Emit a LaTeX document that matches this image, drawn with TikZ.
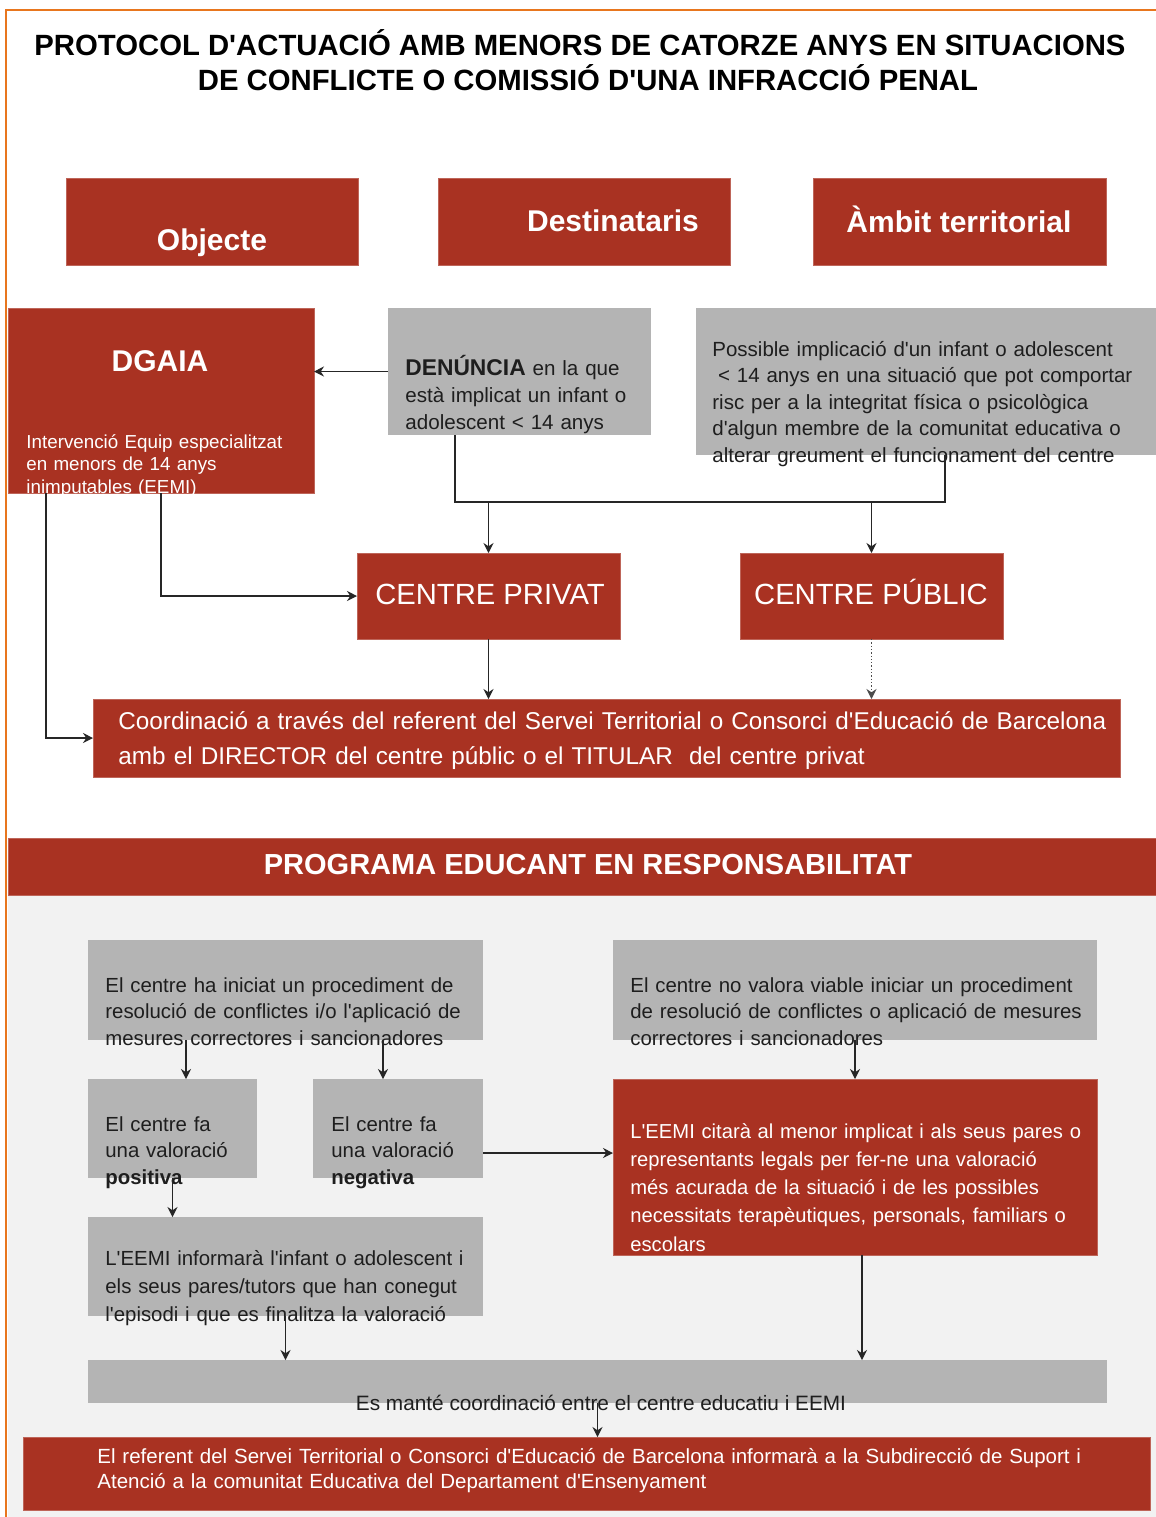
\documentclass[tikz,border=0pt]{standalone}
\usepackage{fontspec}
\setmainfont{Liberation Sans}
\newfontfamily\arialfont{Liberation Sans}
\usetikzlibrary{arrows.meta}
\definecolor{redbox}{RGB}{169,50,34}
\definecolor{greybox}{RGB}{180,180,180}
\definecolor{bglight}{RGB}{242,242,242}
\definecolor{frameorange}{RGB}{232,118,30}
\definecolor{txtdark}{RGB}{30,30,30}
\newcommand\fs[2]{\arialfont\fontsize{#1pt}{#2pt}\selectfont}
\newcommand\mkbox[6]{\node[#6, minimum width={(#4-#2)*0.5pt}, minimum height={(#5-#3)*0.5pt}] (#1) at ({(#2+#4)/2},{(#3+#5)/2}) {};}
\begin{document}
\begin{tikzpicture}[x=0.5pt,y=-0.5pt,
  redb/.style={fill=redbox, draw=redbox!75!white, line width=0.4pt, inner sep=0, outer sep=0},
  greyb/.style={fill=greybox, inner sep=0, outer sep=0},
  gtext/.style={anchor=base west, inner sep=0, text width=300pt, align=left, text=txtdark},
  wtext/.style={gtext, text=white},
  htext/.style={inner sep=0, text=white, font=\bfseries\fs{15}{18}},
  ctext/.style={inner sep=0, anchor=base, text=white, font=\fs{14.6}{17}},
  arr/.style={draw=black!85, line width=0.65pt, -{Stealth[length=5pt,width=5pt]}},
  conn/.style={draw=black!85, line width=0.65pt},
]
\useasboundingbox (0,0) rectangle (1156,1517);
\fill[white] (0,0) rectangle (1156,1517);
% light background of lower section
\fill[bglight] (8,895) rectangle (1156,1517);
% orange frame
\draw[frameorange, line width=1pt] (6,1517) -- (6,10) -- (1156,10);

% title
\node[font=\bfseries\fs{14.65}{17.5}, align=center, text=black, inner sep=0] (title) at (580,60)
  {PROTOCOL D'ACTUACIÓ AMB MENORS DE CATORZE ANYS EN SITUACIONS\\\hspace*{8pt}DE CONFLICTE O COMISSIÓ D'UNA INFRACCIÓ PENAL};

% top header boxes
\mkbox{obj}{66}{178}{358}{265}{redb}
\mkbox{dest}{438}{178}{730}{265}{redb}
\mkbox{ambit}{813}{178}{1106}{265}{redb}
\node[htext] (objtxt) at (212,243) {Objecte};
\node[htext] (desttxt) at (613,221) {Destinataris};
\node[htext] (ambittxt) at (959,219) {Àmbit territorial};

% DGAIA
\mkbox{dgaia}{8}{308}{314}{493}{redb}
\node[htext] (dgaiatitle) at (160,361) {DGAIA};
\node[wtext, font=\fs{9.4}{11.25}] (dgaiatxt) at (26,448)
  {Intervenció Equip especialitzat\\en menors de 14 anys\\inimputables (EEMI)};

% DENUNCIA
\mkbox{den}{388}{308}{651}{435}{greyb}
\node[gtext, font=\fs{10.3}{13.5}] (dentxt) at (405,375)
  {{\fontsize{11.4pt}{13.5pt}\selectfont\bfseries DENÚNCIA} en la que\\està implicat un infant o\\adolescent < 14 anys};

% risk box
\mkbox{risk}{696}{308}{1156}{455}{greyb}
\node[gtext, font=\fs{10.25}{13.25}] (risktxt) at (712,356)
  {Possible implicació d'un infant o adolescent\\\hspace*{0.28em}< 14 anys en una situació que pot comportar\\risc per a la integritat física o psicològica\\d'algun membre de la comunitat educativa o\\alterar greument el funcionament del centre};

% centres
\mkbox{priv}{357}{553}{620}{639}{redb}
\mkbox{pub}{740}{553}{1003}{639}{redb}
\node[ctext] (privtxt) at (490,604) {CENTRE PRIVAT};
\node[ctext] (pubtxt) at (871,604) {CENTRE PÚBLIC};

% coordination
\mkbox{coord}{93}{699}{1120}{777}{redb}
\node[wtext, text width=560pt, font=\fs{12.15}{17.5}] (coordtxt) at (118,729)
  {Coordinació a través del referent del Servei Territorial o Consorci d'Educació de Barcelona\\amb el DIRECTOR del centre públic o el TITULAR\ \ del centre privat};

% programa bar
\mkbox{prog}{8}{838}{1156}{895}{redb}
\node[inner sep=0, text=white, font=\bfseries\fs{14.5}{17}] (progtxt) at (588,865) {PROGRAMA EDUCANT EN RESPONSABILITAT};

% lower boxes
\mkbox{boxA}{88}{940}{483}{1040}{greyb}
\node[gtext, font=\fs{10.2}{13.25}] (boxAtxt) at (105,992)
  {El centre ha iniciat un procediment de\\resolució de conflictes i/o l'aplicació de\\mesures correctores i sancionadores};
\mkbox{boxB}{613}{940}{1097}{1040}{greyb}
\node[gtext, font=\fs{10.2}{13.25}] (boxBtxt) at (630,992)
  {El centre no valora viable iniciar un procediment\\de resolució de conflictes o aplicació de mesures\\correctores i sancionadores};
\mkbox{boxC}{88}{1079}{257}{1178}{greyb}
\node[gtext, font=\fs{10.2}{13.25}] (boxCtxt) at (105,1131)
  {El centre fa\\una valoració\\\textbf{positiva}};
\mkbox{boxD}{313}{1079}{483}{1178}{greyb}
\node[gtext, font=\fs{10.2}{13.25}] (boxDtxt) at (331,1131)
  {El centre fa\\una valoració\\\textbf{negativa}};
\mkbox{boxE}{88}{1217}{483}{1316}{greyb}
\node[gtext, font=\fs{10.2}{14}] (boxEtxt) at (105,1265)
  {L'EEMI informarà l'infant o adolescent i\\els seus pares/tutors que han conegut\\l'episodi i que es finalitza la valoració};
\mkbox{boxF}{613}{1079}{1097}{1255}{redb}
\node[wtext, font=\fs{10.1}{14.15}] (boxFtxt) at (630,1138)
  {L'EEMI citarà al menor implicat i als seus pares o\\representants legals per fer-ne una valoració\\més acurada de la situació i de les possibles\\necessitats terapèutiques, personals, familiars o\\escolars};
\mkbox{boxG}{88}{1360}{1107}{1403}{greyb}
\node[anchor=base, inner sep=0, text=txtdark, font=\fs{10.4}{12}] (boxGtxt) at (601,1410)
  {Es manté coordinació entre el centre educatiu i EEMI};
\mkbox{boxH}{23}{1437}{1150}{1510}{redb}
\node[wtext, text width=560pt, font=\fs{10.25}{12.5}] (boxHtxt) at (97,1463)
  {El referent del Servei Territorial o Consorci d'Educació de Barcelona informarà a la Subdirecció de Suport i\\Atenció a la comunitat Educativa del Departament d'Ensenyament};

% ---------- connectors ----------
\draw[arr] (den.west) -- (den.west -| dgaia.east);
\coordinate (j1) at (455,502);
\coordinate (j2) at (945,502);
\draw[conn] (den.south -| j1) -- (j1) -- (j2) -- (risk.south -| j2);
\draw[arr] (j1 -| priv.north) -- (priv.north);
\draw[arr] (j1 -| pub.north) -- (pub.north);
\draw[arr] ([xshift=19pt]dgaia.south west) |- (coord.west);
\draw[arr] ([xshift=76.5pt]dgaia.south west) |- (priv.west);
\draw[arr] (priv.south) -- (priv.south |- coord.north);
\draw[arr, densely dotted, draw=black!70] (pub.south) -- (pub.south |- coord.north);

\draw[arr] ([xshift=49pt]boxA.south west) coordinate (a1) -- (a1 |- boxC.north);
\draw[arr] ([xshift=147.5pt]boxA.south west) coordinate (a2) -- (a2 |- boxD.north);
\draw[arr] (boxC.south) -- (boxC.south |- boxE.north);
\draw[arr] ([yshift=-12.25pt]boxD.east) coordinate (d1) -- (d1 -| boxF.west);
\draw[arr] (boxB.south) -- (boxB.south |- boxF.north);
\draw[arr] (boxE.south) -- (boxE.south |- boxG.north);
\draw[arr] ([xshift=3.5pt]boxF.south) coordinate (f1) -- (f1 |- boxG.north);
\draw[arr] (boxG.south) -- (boxG.south |- boxH.north);
\end{tikzpicture}
\end{document}
